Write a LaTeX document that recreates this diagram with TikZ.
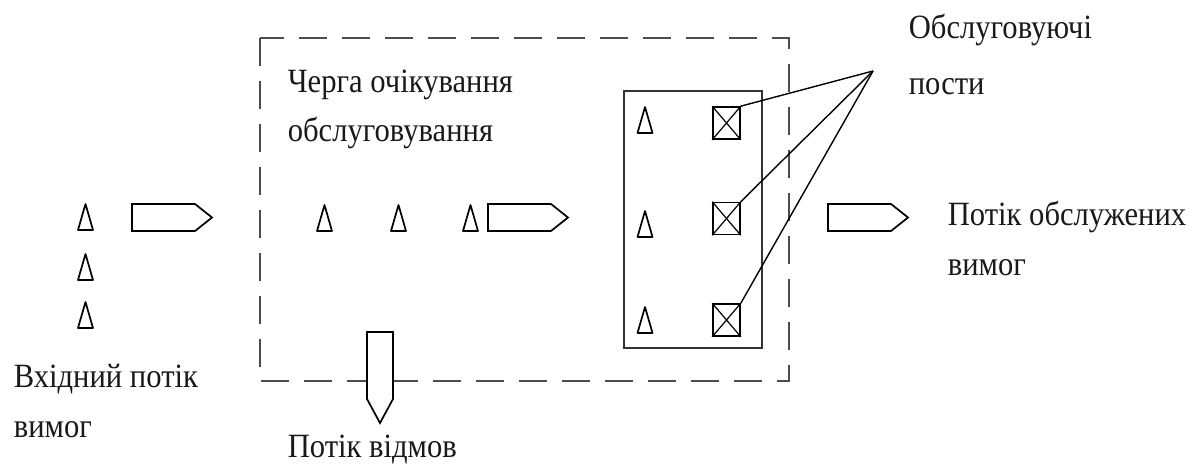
\documentclass[tikz,border=0pt]{standalone}
\usepackage{fontspec}
\setmainfont{Liberation Serif}[FakeStretch=0.9]
\begin{document}
\begin{tikzpicture}[x=1pt,y=-1pt,line width=1.7pt,
  lbl/.style={anchor=base west,inner sep=0pt,font=\fontsize{34}{40}\selectfont,text=black!90},
  post/.style={draw,minimum width=27pt,minimum height=32pt,inner sep=0pt},
  tri/.pic={\draw[line join=round] (-7.5,0) -- (0,-26) -- (7.5,0) -- cycle;},
  arr/.pic={\draw[fill=white] (0,0) -- (63,0) -- (80,13.5) -- (63,27) -- (0,27) -- cycle;},
  zone/.style={draw=black!70,dash pattern=on 28pt off 15pt,line width=2pt},
  link/.style={line width=1.4pt}]
\useasboundingbox (0,0) rectangle (1204,471);
% zones
\draw[zone] (260,38) rectangle (789,381);
\node[draw=black!80,minimum width=138pt,minimum height=257pt,inner sep=0pt,anchor=north west] (srv) at (623,90) {};
% incoming flow
\pic at (85.5,230) {tri};
\pic at (85.5,280) {tri};
\pic at (85.5,328) {tri};
\pic at (132,204) {arr};
% queue
\pic at (324.5,231) {tri};
\pic at (398.5,231) {tri};
\pic at (470.5,231) {tri};
\pic at (488,204) {arr};
% service
\pic at (645,133) {tri};
\pic at (645,237) {tri};
\pic at (645,333) {tri};
\foreach \n/\yy in {b1/123,b2/218.5,b3/320}{
  \node[post] (\n) at (726.5,\yy) {};
  \draw[line width=1.2pt] (\n.north west) -- (\n.south east) (\n.north east) -- (\n.south west);
}
\coordinate (conv) at (873,71);
\draw[link] (b1.north east) -- (conv);
\draw[link] (b2.north east) -- (conv);
\draw[link] (b3.north east) -- (conv);
% outgoing
\pic at (828,204) {arr};
% rejections
\draw[fill=white] (367,332) -- (393,332) -- (393,399) -- (380,423) -- (367,399) -- cycle;
% labels
\node[lbl] (t1) at (908,38) {Обслуговуючі};
\node[lbl] (t2) at (908,94) {пости};
\node[lbl] (t3) at (287,92) {Черга очікування};
\node[lbl] (t4) at (287,141) {обслуговування};
\node[lbl] (t5) at (947,225) {Потік обслужених};
\node[lbl] (t6) at (947,275) {вимог};
\node[lbl] (t7) at (13,387) {Вхідний потік};
\node[lbl] (t8) at (13,437) {вимог};
\node[lbl] (t9) at (287,457) {Потік відмов};
\end{tikzpicture}
\end{document}
